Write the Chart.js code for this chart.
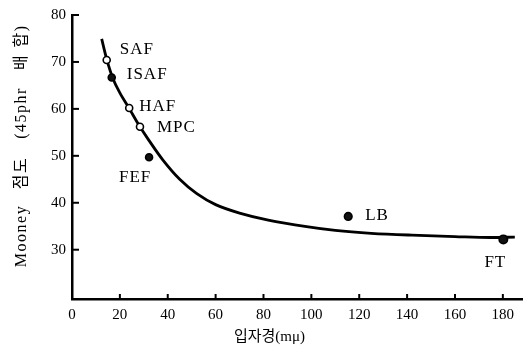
<!DOCTYPE html>
<html>
<head>
<meta charset="utf-8">
<script src="https://cdn.jsdelivr.net/npm/chart.js@4"></script>
<style>
  html, body { margin: 0; padding: 0; background: #fff; }
  #wrap { width: 532px; height: 351px; }
</style>
</head>
<body>
<div id="wrap"><canvas id="chart" width="532" height="351"></canvas></div>
<script>
// carbon black grades: particle size (mμ) vs Mooney viscosity
const grades = ['SAF', 'ISAF', 'HAF', 'MPC', 'FEF', 'LB', 'FT'];
const sizes = [14.5, 16.6, 23.9, 28.4, 32.2, 115.4, 180.2];
const mooney = [70.4, 66.7, 60.2, 56.2, 49.7, 37.1, 32.2];

// fitted curve
const curveX = [12.4, 14.5, 17, 20, 24, 28, 32, 38, 45, 52, 60, 70, 82, 98, 110, 125, 142, 160, 175, 185];
const curveY = [74.9, 70.6, 66.6, 63.4, 60.0, 56.5, 53.4, 49.1, 45.0, 42.0, 39.6, 37.8, 36.3, 34.9, 34.1, 33.5, 33.1, 32.8, 32.6, 32.7];

const yTicks = [30, 40, 50, 60, 70, 80];
const xTicks = [0, 20, 40, 60, 80, 100, 120, 140, 160, 180];

const serif = "'Liberation Serif', 'DejaVu Serif', serif";
const korean = "'Liberation Serif', 'Noto Sans CJK KR', serif";

// label offsets from each point (px)
const labelOffsets = {
  SAF: [13, -11, 'left'],
  ISAF: [15, -3, 'left'],
  HAF: [10, -1, 'left'],
  MPC: [17, 1, 'left'],
  FEF: [-14, 20, 'center'],
  LB: [17, -1, 'left'],
  FT: [-8, 23, 'center']
};

// y title pieces, placed along the axis (centre y in px)
const yTitleParts = [['Mooney', 236], ['점도', 173], ['(45phr', 113], ['배', 62], ['합)', 36]];

const extras = {
  id: 'extras',
  afterDraw(chart) {
    const ctx = chart.ctx;
    const xs = chart.scales.x, ys = chart.scales.y;
    const a = chart.chartArea;
    ctx.save();
    ctx.strokeStyle = '#000';
    ctx.lineWidth = 2;
    // inward tick marks
    yTicks.forEach(v => {
      const py = ys.getPixelForValue(v);
      ctx.beginPath();
      ctx.moveTo(a.left, py);
      ctx.lineTo(a.left + 7, py);
      ctx.stroke();
    });
    xTicks.slice(1).forEach(v => {
      const px = xs.getPixelForValue(v);
      ctx.beginPath();
      ctx.moveTo(px, a.bottom);
      ctx.lineTo(px, a.bottom - 5);
      ctx.stroke();
    });
    // point labels
    ctx.fillStyle = '#000';
    ctx.font = '17px ' + serif;
    ctx.letterSpacing = '1px';
    ctx.textBaseline = 'middle';
    grades.forEach((g, i) => {
      const o = labelOffsets[g];
      ctx.textAlign = o[2];
      ctx.fillText(g, xs.getPixelForValue(sizes[i]) + o[0], ys.getPixelForValue(mooney[i]) + o[1]);
    });
    // axis titles
    ctx.letterSpacing = '0px';
    ctx.font = '15px ' + korean;
    ctx.textAlign = 'center';
    ctx.fillText('입자경(mμ)', xs.getPixelForValue(82.5), 337);
    ctx.font = '16px ' + korean;
    ctx.letterSpacing = '1.5px';
    yTitleParts.forEach(p => {
      ctx.save();
      ctx.translate(22, p[1]);
      ctx.rotate(-Math.PI / 2);
      ctx.fillText(p[0], 0, 0);
      ctx.restore();
    });
    ctx.restore();
  }
};

new Chart(document.getElementById('chart'), {
  type: 'scatter',
  data: {
    datasets: [
      {
        data: sizes.map((x, i) => ({ x: x, y: mooney[i] })),
        pointRadius: [3.5, 3.5, 3.5, 3.5, 3.5, 3.8, 4.2],
        pointBackgroundColor: ['#fff', '#111', '#fff', '#fff', '#111', '#111', '#111'],
        pointBorderColor: '#000',
        pointBorderWidth: 1.6
      },
      {
        data: curveX.map((x, i) => ({ x: x, y: curveY[i] })),
        showLine: true,
        borderColor: '#000',
        borderWidth: 2.8,
        pointRadius: 0,
        tension: 0.35
      }
    ]
  },
  options: {
    responsive: false,
    animation: false,
    events: [],
    layout: { padding: { left: 0, right: 10, top: 14, bottom: 0 } },
    plugins: { legend: { display: false }, tooltip: { enabled: false } },
    scales: {
      x: {
        type: 'linear',
        min: 0,
        max: 188,
        afterFit: s => { s.height = 52; },
        afterBuildTicks: s => { s.ticks = xTicks.map(v => ({ value: v })); },
        grid: { display: false, drawTicks: false },
        border: { display: true, color: '#000', width: 2.5 },
        ticks: { color: '#000', padding: 7, font: { family: serif, size: 15 } }
      },
      y: {
        type: 'linear',
        min: 19.5,
        max: 80,
        afterFit: s => { s.width = 72; },
        afterBuildTicks: s => { s.ticks = yTicks.map(v => ({ value: v })); },
        grid: { display: false, drawTicks: false },
        border: { display: true, color: '#000', width: 2.5 },
        ticks: { color: '#000', padding: 6, font: { family: serif, size: 15 } }
      }
    }
  },
  plugins: [extras]
});
</script>
</body>
</html>
